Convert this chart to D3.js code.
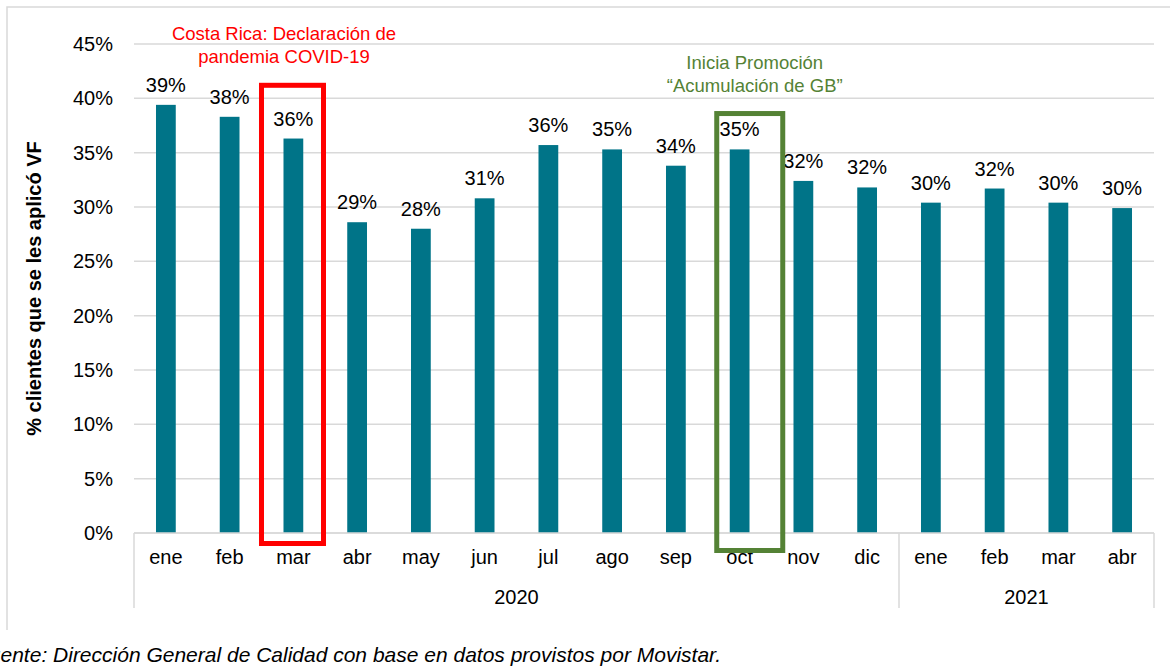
<!DOCTYPE html>
<html>
<head>
<meta charset="utf-8">
<script src="https://cdn.jsdelivr.net/npm/d3@7"></script>
<style>
  body { margin: 0; background: #fff; }
  text { font-family: "Liberation Sans", Arial, sans-serif; }
</style>
</head>
<body>
<div id="chart"></div>
<script>
// data
var months = ["ene", "feb", "mar", "abr", "may", "jun", "jul", "ago", "sep", "oct", "nov", "dic", "ene", "feb", "mar", "abr"];
var years = ["2020", "2020", "2020", "2020", "2020", "2020", "2020", "2020", "2020", "2020", "2020", "2020", "2021", "2021", "2021", "2021"];
var values = [39.4, 38.3, 36.3, 28.6, 28.0, 30.8, 35.7, 35.3, 33.8, 35.3, 32.4, 31.8, 30.4, 31.7, 30.4, 29.9];
var yTicks = [0, 5, 10, 15, 20, 25, 30, 35, 40, 45];
var yearGroups = [{ name: "2020", from: 0, to: 12 }, { name: "2021", from: 12, to: 16 }];

var W = 1170, H = 669;
var margin = { top: 44, right: 16, bottom: 136, left: 134 },
    width = W - margin.left - margin.right,
    height = H - margin.top - margin.bottom;

var svg = d3.select("#chart")
    .append("svg")
    .attr("width", W)
    .attr("height", H);

// outer frame
svg.append("path")
    .attr("d", "M7,630 L7,7 L1170,7")
    .attr("fill", "none")
    .attr("stroke", "#d9d9d9")
    .attr("stroke-width", 1.5);

var g = svg.append("g")
    .attr("transform", "translate(" + margin.left + "," + margin.top + ")");

var idx = d3.range(months.length);
var x = d3.scaleBand()
    .domain(idx)
    .range([0, width])
    .paddingInner(0.69)
    .paddingOuter(0.345);
var step = x.step();

var y = d3.scaleLinear()
    .domain([0, 45])
    .range([height, 0]);

// gridlines + tick labels
g.selectAll(".grid")
    .data(yTicks)
    .enter()
    .append("line")
    .attr("x1", 0)
    .attr("x2", width)
    .attr("y1", function (d) { return y(d); })
    .attr("y2", function (d) { return y(d); })
    .attr("stroke", "#d9d9d9")
    .attr("stroke-width", 1.5);

g.selectAll(".ytick")
    .data(yTicks)
    .enter()
    .append("text")
    .attr("x", -21)
    .attr("y", function (d) { return y(d); })
    .attr("dy", "0.35em")
    .attr("text-anchor", "end")
    .attr("font-size", "20px")
    .attr("fill", "#000")
    .text(function (d) { return d + "%"; });

// y title
g.append("text")
    .attr("transform", "translate(" + (-93) + "," + (height / 2) + ") rotate(-90)")
    .attr("text-anchor", "middle")
    .attr("font-size", "20px")
    .attr("font-weight", "bold")
    .text("% clientes que se les aplicó VF");

// bars
g.selectAll(".bar")
    .data(values)
    .enter()
    .append("rect")
    .attr("x", function (d, i) { return x(i); })
    .attr("y", function (d) { return y(d); })
    .attr("width", x.bandwidth())
    .attr("height", function (d) { return height - y(d); })
    .attr("fill", "#007488");

// value labels
g.selectAll(".lbl")
    .data(values)
    .enter()
    .append("text")
    .attr("x", function (d, i) { return x(i) + x.bandwidth() / 2; })
    .attr("y", function (d) { return y(d) - 13; })
    .attr("text-anchor", "middle")
    .attr("font-size", "20px")
    .attr("fill", "#000")
    .text(function (d) { return Math.round(d) + "%"; });

// category axis
g.append("line")
    .attr("x1", 0).attr("x2", width)
    .attr("y1", height).attr("y2", height)
    .attr("stroke", "#d9d9d9").attr("stroke-width", 1.5);

var seps = [0].concat(yearGroups.map(function (d) { return d.to; }));
g.selectAll(".sep")
    .data(seps)
    .enter()
    .append("line")
    .attr("x1", function (d) { return d * step; })
    .attr("x2", function (d) { return d * step; })
    .attr("y1", height)
    .attr("y2", height + 75)
    .attr("stroke", "#d9d9d9")
    .attr("stroke-width", 1.5);

g.selectAll(".month")
    .data(months)
    .enter()
    .append("text")
    .attr("x", function (d, i) { return x(i) + x.bandwidth() / 2; })
    .attr("y", height + 31)
    .attr("text-anchor", "middle")
    .attr("font-size", "20px")
    .text(function (d) { return d; });

g.selectAll(".year")
    .data(yearGroups)
    .enter()
    .append("text")
    .attr("x", function (d) { return (d.from + d.to) / 2 * step; })
    .attr("y", height + 71)
    .attr("text-anchor", "middle")
    .attr("font-size", "20px")
    .text(function (d) { return d.name; });

// annotation boxes
var mar = 2, oct = 9;
g.append("rect")
    .attr("x", x(mar) - 22)
    .attr("y", y(41.2))
    .attr("width", 62)
    .attr("height", y(0) - y(41.2) + 10.5)
    .attr("fill", "none")
    .attr("stroke", "#ff0000")
    .attr("stroke-width", 5);

g.append("rect")
    .attr("x", x(oct) - 13)
    .attr("y", y(38.6))
    .attr("width", 66)
    .attr("height", y(0) - y(38.6) + 17.5)
    .attr("fill", "none")
    .attr("stroke", "#548235")
    .attr("stroke-width", 5);

var redNote = ["Costa Rica: Declaración de", "pandemia COVID-19"];
g.selectAll(".rnote")
    .data(redNote)
    .enter()
    .append("text")
    .attr("x", x(mar) + 0.5)
    .attr("y", function (d, i) { return -4 + i * 23; })
    .attr("text-anchor", "middle")
    .attr("font-size", "18.5px")
    .attr("fill", "#ff0000")
    .text(function (d) { return d; });

var greenNote = ["Inicia Promoción", "\u201cAcumulación de GB\u201d"];
g.selectAll(".gnote")
    .data(greenNote)
    .enter()
    .append("text")
    .attr("x", x(oct) + 25)
    .attr("y", function (d, i) { return 25 + i * 23; })
    .attr("text-anchor", "middle")
    .attr("font-size", "18.5px")
    .attr("fill", "#548235")
    .text(function (d) { return d; });

// source
svg.append("text")
    .attr("x", -24)
    .attr("y", 662)
    .attr("font-size", "21px")
    .attr("font-style", "italic")
    .text("Fuente: Dirección General de Calidad con base en datos provistos por Movistar.");
</script>
</body>
</html>
